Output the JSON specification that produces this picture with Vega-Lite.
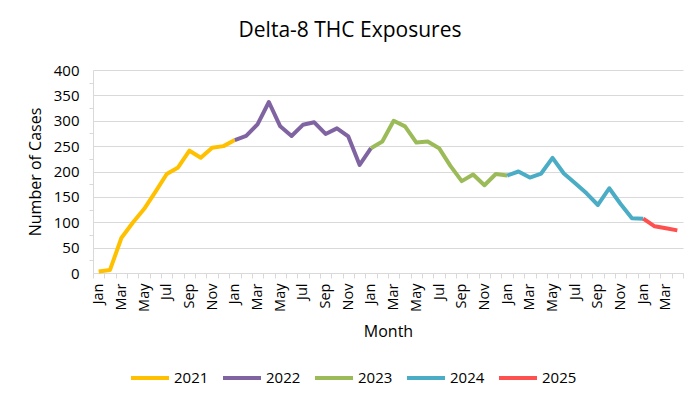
{
  "$schema": "https://vega.github.io/schema/vega-lite/v6.json",
  "width": 590,
  "height": 203,
  "autosize": {"type": "none"},
  "padding": {"left": 93, "top": 70, "right": 17, "bottom": 126},
  "background": "white",
  "config": {"font": "Open Sans", "view": {"stroke": null}},
  "title": {"text": "Delta-8 THC Exposures", "fontSize": 21, "fontWeight": "normal", "color": "#000000", "anchor": "middle", "dx": -38, "offset": 22, "font": "Open Sans"},
  "data": {"values": [
    {"m": "2021-01", "cases": 3, "year": "2021"},
    {"m": "2021-02", "cases": 6, "year": "2021"},
    {"m": "2021-03", "cases": 69, "year": "2021"},
    {"m": "2021-04", "cases": 99, "year": "2021"},
    {"m": "2021-05", "cases": 126, "year": "2021"},
    {"m": "2021-06", "cases": 160, "year": "2021"},
    {"m": "2021-07", "cases": 195, "year": "2021"},
    {"m": "2021-08", "cases": 208, "year": "2021"},
    {"m": "2021-09", "cases": 241, "year": "2021"},
    {"m": "2021-10", "cases": 227, "year": "2021"},
    {"m": "2021-11", "cases": 247, "year": "2021"},
    {"m": "2021-12", "cases": 250, "year": "2021"},
    {"m": "2022-01", "cases": 262, "year": "2021"},
    {"m": "2022-01", "cases": 262, "year": "2022"},
    {"m": "2022-02", "cases": 270, "year": "2022"},
    {"m": "2022-03", "cases": 293, "year": "2022"},
    {"m": "2022-04", "cases": 337, "year": "2022"},
    {"m": "2022-05", "cases": 289, "year": "2022"},
    {"m": "2022-06", "cases": 270, "year": "2022"},
    {"m": "2022-07", "cases": 292, "year": "2022"},
    {"m": "2022-08", "cases": 297, "year": "2022"},
    {"m": "2022-09", "cases": 274, "year": "2022"},
    {"m": "2022-10", "cases": 285, "year": "2022"},
    {"m": "2022-11", "cases": 269, "year": "2022"},
    {"m": "2022-12", "cases": 213, "year": "2022"},
    {"m": "2023-01", "cases": 246, "year": "2022"},
    {"m": "2023-01", "cases": 246, "year": "2023"},
    {"m": "2023-02", "cases": 259, "year": "2023"},
    {"m": "2023-03", "cases": 300, "year": "2023"},
    {"m": "2023-04", "cases": 289, "year": "2023"},
    {"m": "2023-05", "cases": 257, "year": "2023"},
    {"m": "2023-06", "cases": 259, "year": "2023"},
    {"m": "2023-07", "cases": 246, "year": "2023"},
    {"m": "2023-08", "cases": 211, "year": "2023"},
    {"m": "2023-09", "cases": 181, "year": "2023"},
    {"m": "2023-10", "cases": 194, "year": "2023"},
    {"m": "2023-11", "cases": 173, "year": "2023"},
    {"m": "2023-12", "cases": 195, "year": "2023"},
    {"m": "2024-01", "cases": 192, "year": "2023"},
    {"m": "2024-01", "cases": 192, "year": "2024"},
    {"m": "2024-02", "cases": 200, "year": "2024"},
    {"m": "2024-03", "cases": 188, "year": "2024"},
    {"m": "2024-04", "cases": 196, "year": "2024"},
    {"m": "2024-05", "cases": 227, "year": "2024"},
    {"m": "2024-06", "cases": 196, "year": "2024"},
    {"m": "2024-07", "cases": 177, "year": "2024"},
    {"m": "2024-08", "cases": 157, "year": "2024"},
    {"m": "2024-09", "cases": 134, "year": "2024"},
    {"m": "2024-10", "cases": 167, "year": "2024"},
    {"m": "2024-11", "cases": 136, "year": "2024"},
    {"m": "2024-12", "cases": 108, "year": "2024"},
    {"m": "2025-01", "cases": 107, "year": "2024"},
    {"m": "2025-01", "cases": 107, "year": "2025"},
    {"m": "2025-02", "cases": 92, "year": "2025"},
    {"m": "2025-03", "cases": 88, "year": "2025"},
    {"m": "2025-04", "cases": 84, "year": "2025"}
  ]},
  "mark": {"type": "line", "strokeWidth": 4, "strokeJoin": "round", "strokeCap": "butt"},
  "encoding": {
    "x": {
      "field": "m", "type": "ordinal", "bandPosition": 0.5,
      "scale": {"type": "band", "paddingInner": 0, "paddingOuter": 0},
      "axis": {
        "title": "Month", "titleFontSize": 16, "titleFontWeight": "normal", "titleColor": "#000000", "titlePadding": 12,
        "labelAngle": -90, "labelAlign": "right", "labelBaseline": "middle", "labelFontSize": 14.5, "labelColor": "#000000", "labelPadding": 5,
        "labelOverlap": false, "labelFont": "Open Sans",
        "labelExpr": "(toNumber(substring(datum.value,5,7)) % 2 == 1) ? ['Jan','Feb','Mar','Apr','May','Jun','Jul','Aug','Sep','Oct','Nov','Dec'][toNumber(substring(datum.value,5,7))-1] : ''",
        "tickBand": "extent", "ticks": true, "tickSize": 5, "tickColor": "#D9D9D9", "tickWidth": 1,
        "domain": true, "domainColor": "#D9D9D9", "domainWidth": 1, "grid": false
      }
    },
    "y": {
      "field": "cases", "type": "quantitative",
      "scale": {"domain": [0, 400], "nice": false},
      "axis": {
        "title": "Number of Cases", "titleFontSize": 16, "titleFontWeight": "normal", "titleColor": "#000000", "titlePadding": 10,
        "values": [0, 25, 50, 75, 100, 125, 150, 175, 200, 225, 250, 275, 300, 325, 350, 375, 400],
        "labelExpr": "datum.value % 50 == 0 ? datum.label : ''",
        "labelFontSize": 15, "labelColor": "#000000", "labelPadding": 10, "labelFont": "Open Sans",
        "grid": true, "gridColor": "#D9D9D9", "gridWidth": 1,
        "gridOpacity": {"condition": {"test": "datum.value % 50 != 0", "value": 0}, "value": 1},
        "ticks": true, "tickSize": 4, "tickColor": "#D9D9D9",
        "tickOpacity": {"condition": {"test": "datum.value % 50 != 0", "value": 1}, "value": 0},
        "domain": true, "domainColor": "#D9D9D9"
      }
    },
    "color": {
      "field": "year", "type": "nominal",
      "scale": {"domain": ["2021", "2022", "2023", "2024", "2025"], "range": ["#FFC000", "#8064A2", "#9BBB59", "#4BACC6", "#FF5050"]},
      "legend": {
        "title": null, "orient": "none", "direction": "horizontal", "legendX": 36, "legendY": 287,
        "symbolType": "stroke", "symbolSize": 1444, "symbolStrokeWidth": 4,
        "labelFontSize": 15, "labelColor": "#000000", "labelOffset": 3, "columnPadding": 6, "labelFont": "Open Sans"
      }
    }
  }
}
